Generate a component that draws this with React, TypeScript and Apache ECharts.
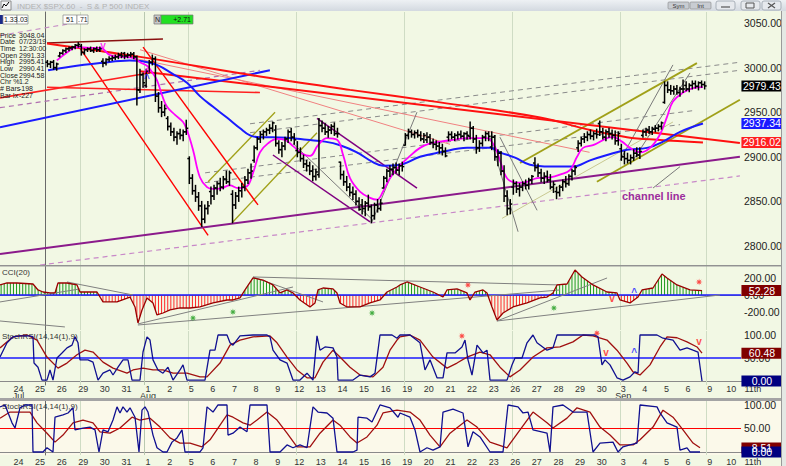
import React, { useEffect, useRef } from "react";
import * as echarts from "echarts";

// ---------- axis / tick data ----------
const dayLabels = ["24","25","26","29","30","31","1","2","5","6","7","8","9","12","13","14","15","16","19","20","21","22","23","26","27","28","29","30","3","4","5","6","9","10","11th"];
const monthLabels: Record<number, string> = { 0: "Jul", 6: "Aug", 28: "Sep" };
const weekLineDays = [3, 8, 13, 18, 23, 28, 32];
const monthLineDays = [6];
const priceTicks = [2800, 2850, 2900, 2950, 3000, 3050];
const cciTicks = [-200, 0, 200];
const stochTicks = [50, 100];
const rsiTicks = [50, 100];

// ---------- hourly OHLC bars (o,h,l,c), 7 per day ----------
const weekStartDays = [1, 3, 8, 13, 18, 23, 28];
const barsWeek0 = [
  [[3006,3008,3001,3004],[3004,3007,3000,3006],[3006,3008,2998,3000],[3000,3005,2997,3004]],
  [[3013,3017,3012,3016],[3016,3020,3015,3019],[3019,3022,3017,3021],[3021,3023,3019,3022],[3022,3024,3020,3023],[3023,3026,3021,3025],[3025,3028,3023,3026]],
];
const barsWeek1 = [
  [[3024,3026,3014,3017],[3017,3021,3015,3020],[3020,3022,3018,3021],[3021,3023,3018,3019],[3019,3022,3017,3021],[3021,3023,3018,3020],[3020,3023,3018,3021]],
  [[3007,3010,3001,3005],[3005,3010,3003,3009],[3009,3012,3007,3010],[3010,3013,3008,3011],[3011,3014,3009,3012],[3012,3016,3010,3014],[3014,3017,3011,3013]],
  [[3016,3017,3010,3013],[3013,3016,3011,3014],[3014,3017,3012,3015],[3015,3017,3010,3012],[3012,3013,2958,2975],[2975,2998,2972,2992],[2992,2994,2978,2983]],
  [[2980,2998,2978,2996],[2996,3008,2994,3006],[3006,3014,3003,3010],[3010,3012,2962,2968],[2968,2972,2950,2955],[2955,2962,2945,2950],[2950,2958,2946,2954]],
  [[2943,2945,2930,2934],[2934,2938,2924,2928],[2928,2932,2918,2922],[2922,2928,2914,2926],[2926,2931,2920,2924],[2924,2930,2918,2928],[2928,2941,2925,2932]],
];
const barsWeek2 = [
  [[2898,2900,2870,2876],[2876,2880,2858,2862],[2862,2868,2850,2855],[2855,2860,2840,2845],[2845,2850,2822,2830],[2830,2846,2826,2842],[2842,2850,2836,2845]],
  [[2861,2866,2847,2856],[2856,2868,2852,2865],[2865,2872,2858,2870],[2870,2876,2862,2866],[2866,2878,2864,2875],[2875,2884,2870,2872],[2872,2884,2868,2882]],
  [[2858,2862,2826,2846],[2846,2860,2842,2856],[2856,2866,2850,2862],[2862,2870,2855,2866],[2866,2878,2862,2874],[2874,2886,2870,2882],[2882,2892,2876,2884]],
  [[2896,2912,2894,2910],[2910,2922,2908,2920],[2920,2928,2916,2925],[2925,2930,2920,2928],[2928,2932,2924,2930],[2930,2936,2926,2932],[2932,2939,2928,2938]],
  [[2930,2935,2912,2915],[2915,2918,2904,2908],[2908,2916,2900,2912],[2912,2922,2908,2920],[2920,2930,2916,2928],[2928,2932,2918,2922],[2922,2926,2914,2919]],
];
const barsWeek3 = [
  [[2907,2917,2900,2905],[2905,2910,2895,2898],[2898,2902,2888,2892],[2892,2896,2884,2890],[2890,2894,2880,2884],[2884,2890,2873,2878],[2878,2886,2874,2883]],
  [[2880,2943,2877,2935],[2935,2940,2928,2932],[2932,2937,2925,2928],[2928,2934,2922,2930],[2930,2936,2926,2934],[2934,2938,2924,2926],[2926,2932,2922,2926]],
  [[2894,2894,2875,2880],[2880,2884,2868,2872],[2872,2878,2862,2866],[2866,2870,2856,2860],[2860,2866,2852,2858],[2858,2862,2846,2850],[2850,2854,2840,2841]],
  [[2846,2852,2836,2842],[2842,2850,2834,2848],[2848,2857,2840,2844],[2844,2846,2826,2834],[2834,2848,2830,2846],[2846,2852,2838,2842],[2842,2852,2840,2848]],
  [[2865,2878,2865,2876],[2876,2886,2872,2884],[2884,2890,2878,2886],[2886,2892,2880,2888],[2888,2893,2882,2885],[2885,2892,2880,2890],[2890,2894,2884,2889]],
];
const barsWeek4 = [
  [[2913,2926,2913,2924],[2924,2931,2920,2928],[2928,2930,2922,2925],[2925,2929,2921,2927],[2927,2930,2922,2924],[2924,2928,2918,2920],[2920,2926,2916,2924]],
  [[2919,2927,2916,2922],[2922,2925,2914,2916],[2916,2920,2910,2914],[2914,2918,2908,2912],[2912,2916,2904,2910],[2910,2914,2902,2906],[2906,2910,2900,2901]],
  [[2922,2928,2918,2925],[2925,2928,2920,2922],[2922,2926,2918,2924],[2924,2928,2920,2925],[2925,2929,2921,2923],[2923,2927,2918,2926],[2926,2928,2920,2924]],
  [[2923,2939,2920,2932],[2932,2934,2916,2920],[2920,2924,2904,2910],[2910,2918,2906,2915],[2915,2924,2912,2922],[2922,2928,2918,2926],[2926,2928,2918,2923]],
  [[2911,2928,2908,2922],[2922,2924,2896,2900],[2900,2908,2890,2904],[2904,2906,2880,2884],[2884,2890,2850,2856],[2856,2862,2835,2842],[2842,2852,2836,2847]],
];
const barsWeek5 = [
  [[2866,2874,2858,2870],[2870,2872,2860,2864],[2864,2870,2856,2866],[2866,2872,2862,2870],[2870,2874,2864,2868],[2868,2876,2864,2874],[2874,2879,2870,2878]],
  [[2893,2899,2884,2888],[2888,2892,2878,2882],[2882,2886,2872,2876],[2876,2882,2870,2878],[2878,2884,2872,2874],[2874,2880,2864,2866],[2866,2872,2860,2869]],
  [[2861,2866,2853,2860],[2860,2868,2856,2866],[2866,2874,2862,2872],[2872,2878,2866,2870],[2870,2880,2868,2878],[2878,2886,2874,2884],[2884,2890,2880,2888]],
  [[2910,2918,2906,2915],[2915,2922,2912,2920],[2920,2926,2916,2922],[2922,2928,2918,2925],[2925,2930,2920,2923],[2923,2928,2919,2926],[2926,2931,2921,2925]],
  [[2937,2940,2924,2928],[2928,2932,2920,2922],[2922,2930,2918,2928],[2928,2932,2922,2926],[2926,2930,2920,2924],[2924,2929,2914,2918],[2918,2928,2913,2926]],
];
const barsWeek6 = [
  [[2909,2914,2896,2900],[2900,2906,2892,2898],[2898,2904,2893,2896],[2896,2902,2892,2899],[2899,2908,2896,2904],[2904,2910,2900,2902],[2902,2910,2898,2906]],
  [[2924,2930,2922,2928],[2928,2932,2924,2930],[2930,2934,2926,2928],[2928,2933,2925,2931],[2931,2935,2928,2932],[2932,2936,2929,2934],[2934,2939,2931,2938]],
  [[2961,2984,2960,2980],[2980,2984,2972,2975],[2975,2980,2970,2974],[2974,2979,2970,2976],[2976,2980,2970,2972],[2972,2978,2968,2976],[2976,2986,2972,2976]],
  [[2980,2984,2974,2976],[2976,2982,2973,2980],[2980,2985,2976,2982],[2982,2985,2977,2979],[2979,2984,2975,2983],[2983,2985,2978,2981],[2981,2984,2976,2979.43]],
];
const allWeeks = [barsWeek0, barsWeek1, barsWeek2, barsWeek3, barsWeek4, barsWeek5, barsWeek6];

// ---------- moving averages (day index, price) ----------
const magentaMA = [[1.94,3008],[2.41,3017],[2.87,3023],[3.47,3022],[3.94,3022],[4.4,3014],[4.95,3012],[5.46,3011],[5.79,3006],[6.11,3002],[6.34,2995],[6.57,2986],[6.81,2969],[7.04,2956],[7.41,2947],[7.78,2939],[7.96,2930],[8.24,2908],[8.56,2877],[8.89,2866],[9.17,2864],[9.58,2865],[9.95,2868],[10.32,2865],[10.74,2867],[11.02,2882],[11.34,2905],[11.71,2915],[12.13,2920],[12.5,2919],[12.87,2912],[13.33,2903],[13.66,2901],[14.03,2913],[14.44,2921],[14.91,2919],[15.19,2902],[15.51,2876],[15.97,2861],[16.44,2854],[16.76,2852],[17.04,2861],[17.36,2876],[17.82,2890],[18.29,2901],[18.75,2910],[19.21,2915],[19.68,2917],[20.28,2919],[20.93,2921],[21.53,2921],[21.85,2921],[22.22,2911],[22.45,2896],[22.78,2876],[23.24,2871],[23.7,2872],[24.17,2876],[24.77,2877],[25.23,2880],[25.69,2885],[26.02,2900],[26.3,2910],[26.76,2913],[27.41,2921],[27.69,2922],[28.1,2917],[28.47,2910],[28.94,2905],[29.4,2910],[29.86,2925],[30.19,2945],[30.46,2962],[30.93,2972],[31.39,2977],[31.85,2978]];
const blueMA = [[1.53,2997],[2.55,3001],[3.94,3005],[5.3,3008],[5.93,3007],[6.57,3003],[7.3,2993],[7.96,2983],[8.56,2968],[9.17,2956],[9.81,2944],[10.42,2932],[10.88,2924],[11.34,2922],[11.94,2922],[12.73,2921],[13.52,2919],[14.35,2917],[15.05,2913],[15.83,2905],[16.57,2894],[17.04,2890],[17.82,2891],[18.75,2900],[19.68,2905],[20.93,2910],[21.99,2910],[22.45,2905],[23.15,2899],[23.84,2891],[24.77,2889],[25.83,2889],[26.62,2896],[27.41,2902],[28.33,2908],[29.26,2910],[30,2917],[30.79,2928],[31.85,2937.34]];
const redMA = [[1.48,3027],[5.79,3012],[11.34,2990],[15.51,2975],[19.68,2961],[24.31,2944],[26.62,2930],[28.33,2922],[29.72,2919],[31.85,2916.02]];

// ---------- trend lines (day index, price) ----------
const channelLine = [[-0.694,2791],[33.56,2900]];
const channelDashed = [[1.16,2778.7],[33.56,2878.5]];
const blueTrend = [[-0.694,2933],[11.8,2997]];
const purpleDashedUpper = [[-0.694,2955],[11.34,2997]];
const pinkDashedTop = [[-0.694,3036],[3.0,3051]];
const maroonTop = [[1.48,3027.6],[6.85,3032]];
const redSteep = [[[2.92,3025],[8.94,2812]], [[5.93,3023],[11.25,2846]]];
const redLong = [[5.79,2996],[33.56,2915.5]];
const redFlat = [[[1.48,2978],[11.34,2972]], [[-0.694,2966],[6.2,2994]]];
const salmonLines = [[[4.0,3018],[26.6,2905]], [[5.79,3020],[20.14,2914]]];
const oliveLines = [[[8.94,2872],[12.04,2950]], [[10.05,2826],[13.98,2927]], [[23.38,2893],[31.57,3005]], [[26.94,2872],[33.56,2964]]];
const khakiLine = [[22.55,2831],[30.46,2939]];
const violetLines = [[[13.98,2943],[18.61,2865]], [[11.94,2902],[16.44,2827]]];
const greyLines = [[[16.53,2827],[18.61,2950]], [[12.87,2915],[16.57,2829]], [[21.99,2922],[23.29,2816]], [[22.45,2922],[24.17,2840]], [[28.01,2896],[30.46,3003]], [[28.61,2896],[31.25,2994]], [[29.54,2865],[30.79,2889]]];
const greyDashed = [[[10.88,2937],[33.56,3006]], [[10.88,2927],[33.56,2997]], [[8.8,2882],[31.48,2952]], [[8.8,2871],[30.79,2936]]];

// ---------- CCI(20) ----------
const cci = [[-0.694,118],[-0.37,141],[0.093,141],[0.833,129],[1.065,59],[1.296,35],[1.62,24],[1.852,24],[1.991,141],[2.407,141],[2.87,118],[3.009,35],[3.796,35],[3.935,-24],[4.074,-82],[4.722,-82],[5.324,-24],[5.556,-141],[5.694,-329],[5.88,-176],[6.111,-35],[6.389,-94],[6.574,-235],[6.852,-212],[7.176,-176],[7.639,-153],[8.102,-153],[8.565,-141],[9.167,-94],[9.815,-59],[10.093,-59],[10.417,-35],[10.648,59],[11.019,200],[11.481,176],[11.944,118],[12.269,24],[12.593,59],[12.87,24],[13.194,-59],[13.657,-141],[13.889,-94],[14.028,59],[14.259,82],[14.722,71],[14.907,24],[15.046,-94],[15.37,-141],[15.972,-141],[16.435,-94],[16.898,-59],[17.222,35],[17.685,94],[17.824,118],[18.148,153],[18.75,94],[19.352,35],[19.815,-24],[20.0,59],[20.463,71],[20.926,24],[21.065,-59],[21.296,35],[21.667,59],[21.852,24],[22.083,-141],[22.315,-294],[22.593,-212],[23.056,-141],[23.704,-94],[24.306,-35],[24.63,-24],[24.907,24],[25.093,118],[25.556,129],[25.926,294],[26.25,212],[26.759,118],[27.407,35],[27.87,24],[28.009,-59],[28.472,-94],[28.843,-24],[29.028,59],[29.537,82],[29.954,247],[30.185,200],[30.648,118],[31.25,59],[31.806,52.28]];
const cciTrends = [[[-0.694,-82],[3.0,71]], [[-0.694,-306],[2.31,-376]], [[2.41,153],[5.46,0]], [[5.69,-341],[12.87,94]], [[5.69,-353],[25.23,59]], [[11.02,212],[25.23,118]], [[11.02,212],[14.26,-82]], [[22.31,-306],[27.41,200]], [[22.31,-306],[32.64,0]]];
const cciGreenStars = [[8.24,-270],[10.09,-200],[16.53,-212],[24.95,-153]];
const cciRedStars = [[20.97,118],[31.67,153]];
const cciRedV = [[27.64,-47]];
const cciBlueUp = [[28.66,35]];

// ---------- Stoch (upper) ----------
const stochFast = [[-0.694,52],[-0.37,83],[-0.093,96],[0.231,98],[0.694,98],[0.833,96],[0.88,39],[1.065,30],[1.25,2],[1.481,2],[1.62,24],[1.759,2],[1.944,50],[2.176,61],[2.407,72],[2.639,78],[2.778,96],[2.917,83],[3.009,46],[3.38,46],[3.611,41],[3.843,2],[4.074,17],[4.398,24],[4.537,13],[4.769,30],[5.0,46],[5.231,46],[5.417,2],[5.787,2],[5.926,63],[6.111,96],[6.25,89],[6.389,46],[6.62,24],[6.852,17],[7.083,30],[7.315,2],[7.639,24],[7.778,35],[7.963,2],[8.796,2],[9.028,67],[9.259,67],[9.398,100],[9.815,100],[9.954,83],[10.093,78],[10.417,98],[11.019,100],[11.667,100],[11.806,96],[11.944,67],[12.269,46],[12.593,39],[12.87,2],[13.194,2],[13.519,17],[13.796,2],[13.981,98],[14.12,67],[14.352,74],[14.722,72],[14.907,52],[14.954,2],[15.648,2],[15.972,13],[16.435,9],[16.667,17],[16.898,100],[17.454,100],[17.685,93],[17.824,100],[18.287,100],[18.75,83],[18.981,24],[19.213,46],[19.537,7],[19.815,7],[20.0,61],[20.37,61],[20.694,74],[20.833,89],[20.972,46],[21.157,13],[21.389,78],[21.667,61],[21.852,67],[21.991,2],[22.778,2],[23.009,35],[23.148,50],[23.472,50],[23.704,83],[23.981,100],[24.167,83],[24.63,67],[24.907,72],[25.093,100],[25.833,100],[26.852,100],[26.991,96],[27.176,35],[27.315,46],[27.546,35],[27.87,7],[28.148,2],[28.472,9],[28.704,20],[28.843,17],[28.935,100],[29.259,100],[29.722,100],[30.0,93],[30.463,89],[30.787,67],[31.111,72],[31.389,67],[31.62,63],[31.806,0]];
const stochSlow = [[-0.694,72],[-0.093,96],[0.556,100],[1.019,89],[1.481,52],[1.991,28],[2.407,39],[2.87,57],[3.241,67],[3.611,63],[4.074,41],[4.537,28],[5.185,17],[5.463,24],[5.926,28],[6.389,24],[6.852,24],[7.315,17],[7.963,17],[8.565,9],[8.889,9],[9.491,39],[9.954,78],[10.417,89],[11.019,96],[11.806,98],[12.13,83],[12.593,52],[13.056,24],[13.519,7],[13.889,7],[14.259,41],[14.722,67],[15.046,52],[15.509,30],[15.972,13],[16.574,9],[17.037,30],[17.361,67],[17.685,89],[17.824,96],[18.287,100],[18.75,89],[19.352,52],[20.0,28],[20.463,39],[20.926,52],[21.528,63],[21.991,57],[22.454,30],[22.917,9],[23.38,24],[23.981,52],[24.63,72],[25.231,74],[25.833,85],[26.296,100],[26.759,98],[27.407,89],[27.87,67],[28.333,39],[28.611,20],[28.935,13],[29.398,35],[29.861,74],[30.185,96],[30.648,94],[31.111,85],[31.574,74],[31.806,60.48]];
const stochRedStars = [[20.69,98],[26.94,104]];
const stochRedV = [[27.36,61],[31.67,85]];
const stochBlueUp = [[28.66,61]];

// ---------- StochRSI (bottom) ----------
const rsiFast = [[-0.694,96],[-0.463,100],[-0.139,62],[0,51],[0.231,94],[0.463,100],[0.787,100],[0.833,0],[1.296,0],[1.481,9],[1.759,0],[1.852,74],[2.222,79],[2.454,83],[2.685,94],[2.778,47],[3.148,51],[3.472,53],[3.704,47],[3.889,0],[4.074,47],[4.306,43],[4.537,68],[4.722,96],[4.861,83],[5.0,96],[5.185,85],[5.324,94],[5.556,74],[5.741,0],[5.88,89],[6.019,96],[6.157,85],[6.389,36],[6.574,9],[6.852,0],[7.037,0],[7.269,21],[7.5,30],[7.731,47],[7.87,0],[8.565,0],[8.704,9],[8.889,96],[9.167,85],[9.398,100],[9.815,100],[9.861,36],[10.093,40],[10.417,53],[10.741,43],[10.88,100],[11.667,100],[11.806,0],[12.269,0],[12.593,15],[12.87,9],[13.194,15],[13.519,9],[13.796,96],[14.028,85],[14.444,83],[14.722,72],[14.907,0],[15.648,0],[15.833,4],[15.88,74],[16.296,72],[16.528,64],[16.898,100],[17.361,94],[17.731,74],[17.824,83],[18.287,74],[18.519,47],[18.75,0],[19.074,9],[19.352,4],[19.676,11],[19.815,85],[20.278,91],[20.741,83],[20.972,11],[21.204,43],[21.528,32],[21.991,0],[22.593,0],[22.824,100],[23.287,96],[23.519,83],[23.75,85],[23.981,47],[24.63,40],[24.769,0],[24.907,96],[25.37,100],[25.833,85],[26.481,85],[26.759,0],[27.083,19],[27.685,21],[27.917,0],[28.148,11],[28.472,15],[28.796,19],[28.935,100],[29.722,96],[29.861,83],[30.185,62],[30.648,53],[30.787,4],[31.111,9],[31.25,0],[31.713,0]];
const rsiSlow = [[-0.694,72],[-0.231,85],[0.231,85],[0.694,85],[1.019,62],[1.481,40],[1.852,21],[2.222,36],[2.685,62],[3.148,68],[3.611,62],[3.935,43],[4.398,40],[4.861,51],[5.417,74],[5.787,68],[6.25,72],[6.713,53],[7.176,30],[7.639,19],[8.102,19],[8.657,11],[9.028,26],[9.398,51],[9.815,79],[10.093,74],[10.556,62],[10.88,57],[11.204,68],[11.667,85],[12.13,68],[12.593,40],[13.056,11],[13.657,11],[14.12,40],[14.722,68],[15.046,57],[15.509,32],[15.833,19],[16.296,32],[16.759,57],[17.037,83],[17.685,89],[18.287,85],[18.75,68],[19.213,36],[19.676,11],[20.139,40],[20.926,68],[21.389,53],[21.991,21],[22.778,9],[23.38,47],[23.981,85],[24.63,62],[24.907,51],[25.556,72],[26.019,94],[26.62,85],[27.083,53],[27.546,36],[28.009,15],[28.611,15],[28.935,26],[29.537,53],[30.0,89],[30.463,74],[30.926,47],[31.389,19],[31.713,9]];

// ---------- last values ----------
const lastPrice = 2979.43;
const lastBlueMA = 2937.34;
const lastRedMA = 2916.02;
const lastCCI = 52.28;
const lastStochSlow = 60.48;
const lastStochFast = 0.0;
const lastRsiSlow = 8.51;
const lastRsiFast = 0.0;

const infoRows = [["Price","3048.04"],["Date","07/23/19"],["Time","12:30:00"],["Open","2991.33"],["High","2995.41"],["Low","2990.41"],["Close","2994.58"],["Chr %","1.2"],["# Bars","-198"],["Bar Ix","-227"]];

// ---------- layout constants ----------
const X_MIN = -0.6944;
const X_MAX = 35.694;
const X_AXIS_RIGHT = 33.61;
const BOX_X = 34.58;
const FONT = "'Liberation Sans', Arial, sans-serif";
const STAR = "path://M0,-5L0.77,-1.85L3.54,-3.54L1.85,-0.77L5,0L1.85,0.77L3.54,3.54L0.77,1.85L0,5L-0.77,1.85L-3.54,3.54L-1.85,0.77L-5,0L-1.85,-0.77L-3.54,-3.54L-0.77,-1.85Z";

function buildBars() {
  const out: number[][] = [];
  allWeeks.forEach((wk, wi) => {
    wk.forEach((day, di) => {
      const d = weekStartDays[wi] + di;
      const start = 7 - day.length;
      day.forEach((b, j) => out.push([d + (start + j + 0.5) / 7, b[0], b[1], b[2], b[3]]));
    });
  });
  return out;
}

function buildOption() {
  const series: any[] = [];
  const ln = (data: any, color: string, width: number, gi: number, dash?: boolean, extra?: any) => {
    series.push({
      type: "line", xAxisIndex: gi, yAxisIndex: gi, data, showSymbol: false, symbol: "none", silent: true,
      lineStyle: { color, width, type: dash ? [5, 4] : "solid" }, z: 3, ...(extra || {}),
    });
  };

  const box = (v: number, text: string, bg: string) => ({
    coord: [BOX_X, v], value: text, symbol: "rect", symbolSize: [41, 11],
    itemStyle: { color: bg },
    label: { show: true, position: "inside", formatter: text, color: "#fff", fontSize: 10.5, fontFamily: FONT },
  });

  const vLines = [
    ...weekLineDays.map((d) => ({ xAxis: d, lineStyle: { color: "#cfdcc4", width: 1, type: "solid" } })),
    ...monthLineDays.map((d) => ({ xAxis: d, lineStyle: { color: "#b9c8b0", width: 1, type: "solid" } })),
  ];
  const helper = (gi: number, yMid: number, boxes: any[]) => {
    series.push({
      type: "line", xAxisIndex: gi, yAxisIndex: gi, data: [[X_MIN, yMid]], symbol: "none", silent: true,
      lineStyle: { opacity: 0 }, z: 1,
      markLine: { silent: true, symbol: "none", label: { show: false }, data: vLines, z: 1 },
      markPoint: { silent: true, data: boxes, z: 20 },
    });
  };
  helper(0, 2900, [box(lastPrice, "2979.43", "#000000"), box(lastBlueMA, "2937.34", "#1a1aff"), box(lastRedMA, "2916.02", "#ff2020")]);
  helper(1, 0, [box(lastCCI, "52.28", "#800000")]);
  helper(2, 50, [box(lastStochSlow, "60.48", "#800000"), box(lastStochFast, "0.00", "#000080")]);
  helper(3, 50, [box(lastRsiSlow, "8.51", "#800000"), box(lastRsiFast, "0.00", "#000080")]);

  // ---- main panel trend lines ----
  greyDashed.forEach((d) => ln(d, "#8a8a8a", 1, 0, true));
  ln(channelDashed, "#c888c8", 1.2, 0, true);
  ln(purpleDashedUpper, "#b070b0", 1.2, 0, true);
  ln(pinkDashedTop, "#c890c8", 1.2, 0, true);
  salmonLines.forEach((d) => ln(d, "#f08080", 1, 0));
  ln(khakiLine, "#c8c890", 1, 0);
  greyLines.forEach((d) => ln(d, "#7a7a7a", 1, 0));
  oliveLines.forEach((d, i) => ln(d, "#a0a018", i >= 2 ? 1.8 : 1.3, 0));
  violetLines.forEach((d) => ln(d, "#800080", 1.5, 0));
  ln(maroonTop, "#8a1010", 1.6, 0);
  redSteep.forEach((d) => ln(d, "#ff0000", 1.4, 0));
  redFlat.forEach((d) => ln(d, "#ff2020", 1.6, 0));
  ln(redLong, "#ff1010", 2, 0);
  ln(blueTrend, "#1a1aff", 2, 0);
  ln(channelLine, "#8b1a8b", 2, 0);
  ln(redMA, "#ff1010", 2, 0, false, { smooth: 0.4 });
  ln(blueMA, "#1a1aff", 2, 0, false, { smooth: 0.4 });
  ln(magentaMA, "#ff00ff", 1.8, 0, false, { smooth: 0.4 });

  // ---- OHLC bars ----
  series.push({
    type: "custom", xAxisIndex: 0, yAxisIndex: 0, data: buildBars(), silent: true, clip: true, z: 6,
    dimensions: ["x", "o", "h", "l", "c"], encode: { x: 0, y: [1, 2, 3, 4] },
    renderItem: (_p: any, api: any) => {
      const x = api.value(0);
      const o = api.coord([x, api.value(1)]);
      const h = api.coord([x, api.value(2)]);
      const l = api.coord([x, api.value(3)]);
      const c = api.coord([x, api.value(4)]);
      const st = { stroke: "#000", lineWidth: 1.5 };
      return {
        type: "group", children: [
          { type: "line", shape: { x1: h[0], y1: h[1] - 0.5, x2: l[0], y2: l[1] + 0.5 }, style: st },
          { type: "line", shape: { x1: o[0] - 2, y1: o[1], x2: o[0], y2: o[1] }, style: st },
          { type: "line", shape: { x1: c[0], y1: c[1], x2: c[0] + 2, y2: c[1] }, style: st },
        ],
      };
    },
  });

  const textMarks = (data: number[][], gi: number, txt: string, color: string, size: number) => {
    series.push({
      type: "scatter", xAxisIndex: gi, yAxisIndex: gi, data, symbolSize: 0, silent: true, z: 8,
      label: { show: true, position: "inside", formatter: txt, color, fontSize: size, fontWeight: "bold", fontFamily: FONT },
    });
  };
  const stars = (data: number[][], gi: number, color: string) => {
    series.push({ type: "scatter", xAxisIndex: gi, yAxisIndex: gi, data, symbol: STAR, symbolSize: 7, silent: true, z: 8, itemStyle: { color } });
  };
  textMarks([[4.07, 3025]], 0, "v", "#ff00ff", 10);
  textMarks([[6.11, 2995]], 0, "^", "#ff00ff", 10);
  textMarks([[6.11, 2988]], 0, "^", "#1a1aff", 10);

  // ---- CCI panel ----
  const cciSeg = cci.slice(0, -1).map((p, i) => [p[0], p[1], cci[i + 1][0], cci[i + 1][1]]);
  series.push({
    type: "custom", xAxisIndex: 1, yAxisIndex: 1, data: cciSeg, silent: true, clip: true, z: 2,
    encode: { x: [0, 2], y: [1, 3] },
    renderItem: (_p: any, api: any) => {
      const p1 = api.coord([api.value(0), api.value(1)]);
      const p2 = api.coord([api.value(2), api.value(3)]);
      const zy = api.coord([api.value(0), 0])[1];
      const origin = api.coord([0, 0])[0];
      const step = api.size([1 / 7, 0])[0];
      const children: any[] = [];
      let n = Math.floor((p1[0] - origin) / step - 0.5);
      for (let guard = 0; guard < 200; guard++) {
        const x = origin + (n + 0.5) * step;
        n++;
        if (x < p1[0]) continue;
        if (x >= p2[0]) break;
        const t = (x - p1[0]) / (p2[0] - p1[0]);
        const y = p1[1] + t * (p2[1] - p1[1]);
        children.push({ type: "line", shape: { x1: x, y1: zy, x2: x, y2: y }, style: { stroke: y < zy ? "#1c9a1c" : "#ff2a2a", lineWidth: 1 } });
      }
      return { type: "group", children };
    },
  });
  ln([[X_MIN, 0], [X_AXIS_RIGHT, 0]], "#1a1aff", 1.5, 1);
  cciTrends.forEach((d) => ln(d, "#808080", 1, 1));
  ln(cci, "#9a0000", 1.3, 1);
  stars(cciGreenStars, 1, "#1a9a1a");
  stars(cciRedStars, 1, "#ff2020");
  textMarks(cciRedV, 1, "v", "#ff2020", 10);
  textMarks(cciBlueUp, 1, "^", "#1a1aff", 10);

  // ---- Stoch panel ----
  ln([[X_MIN, 50], [X_AXIS_RIGHT, 50]], "#1a1aff", 1.5, 2);
  ln(stochSlow, "#a01010", 1.3, 2);
  ln(stochFast, "#101090", 1.3, 2);
  stars(stochRedStars, 2, "#ff2020");
  textMarks(stochRedV, 2, "v", "#ff2020", 10);
  textMarks(stochBlueUp, 2, "^", "#1a1aff", 10);

  // ---- StochRSI panel ----
  ln([[X_MIN, 50], [X_AXIS_RIGHT, 50]], "#ff0000", 1.2, 3);
  ln(rsiSlow, "#a01010", 1.3, 3);
  ln(rsiFast, "#101090", 1.3, 3);

  const grids = [
    { top: 12, height: 253, bg: "#f2f8e4" },
    { top: 266, height: 64, bg: "#f2f8e4" },
    { top: 331, height: 54, bg: "#f2f8e4" },
    { top: 401, height: 54, bg: "#fbf9ea" },
  ];
  const yr = [[2778.7, 3062.3], [-412, 341], [-8.7, 108.7], [-6.4, 108.5]];
  const yt = [priceTicks, cciTicks, stochTicks, rsiTicks];

  const dayWithMonth = (v: number) => {
    const i = Math.round(v - 0.16);
    return dayLabels[i] + (monthLabels[i] ? "\n" + monthLabels[i] : "");
  };
  const dayOnly = (v: number) => dayLabels[Math.round(v - 0.16)];
  const dayValues = dayLabels.map((_, i) => i + 0.16);

  const graphic: any[] = [
    { type: "rect", shape: { x: 0, y: 398, width: 786, height: 3 }, style: { fill: "#a4a4a4" }, z: 50 },
    { type: "line", shape: { x1: 0, y1: 266, x2: 786, y2: 266 }, style: { stroke: "#9a9a9a", lineWidth: 1 }, z: 50 },
    { type: "line", shape: { x1: 781.5, y1: 11, x2: 781.5, y2: 466 }, style: { stroke: "#9a9a9a", lineWidth: 1 }, z: 50 },
    { type: "rect", shape: { x: 782, y: 11, width: 4, height: 455 }, style: { fill: "#e4e8e4" }, z: 50 },
    { type: "rect", shape: { x: 0, y: 0, width: 786, height: 11 }, style: { fill: new echarts.graphic.LinearGradient(0, 0, 0, 1, [{ offset: 0, color: "#eef1f4" }, { offset: 1, color: "#d3d9e0" }]) }, z: 60 },
    { type: "rect", shape: { x: 1, y: 1, width: 10, height: 9 }, style: { fill: "#f4f4f4", stroke: "#777", lineWidth: 0.8 }, z: 61 },
    { type: "polyline", shape: { points: [[2, 8], [4, 4], [6, 6], [9, 2]] }, style: { stroke: "#000", lineWidth: 1, fill: null }, z: 62 },
    { type: "text", x: 17, y: 6, style: { text: "INDEX $SPX.60  -  S & P 500 INDEX", fill: "#b2b2b2", font: `8px ${FONT}`, verticalAlign: "middle" }, z: 61 },
    { type: "rect", shape: { x: 668, y: 2, width: 21, height: 7, r: 1 }, style: { fill: "#c8ccd2", stroke: "#888", lineWidth: 0.6 }, z: 61 },
    { type: "text", x: 678.5, y: 5.5, style: { text: "Sym", fill: "#333", font: `6px ${FONT}`, align: "center", verticalAlign: "middle" }, z: 62 },
    { type: "rect", shape: { x: 690, y: 2, width: 21, height: 7, r: 1 }, style: { fill: "#c8ccd2", stroke: "#888", lineWidth: 0.6 }, z: 61 },
    { type: "text", x: 700.5, y: 5.5, style: { text: "Int", fill: "#333", font: `6px ${FONT}`, align: "center", verticalAlign: "middle" }, z: 62 },
    ...[716, 741, 762].map((x) => ({ type: "rect", shape: { x, y: 1, width: 19, height: 9, r: 2 }, style: { fill: "#e6e9ed", stroke: "#9aa2ac", lineWidth: 0.8 }, z: 61 })),
    { type: "line", shape: { x1: 721, y1: 7, x2: 730, y2: 7 }, style: { stroke: "#555", lineWidth: 1.2 }, z: 62 },
    { type: "rect", shape: { x: 746, y: 3, width: 8, height: 5 }, style: { fill: null, stroke: "#555", lineWidth: 1 }, z: 62 },
    { type: "line", shape: { x1: 768, y1: 3, x2: 775, y2: 8 }, style: { stroke: "#555", lineWidth: 1.2 }, z: 62 },
    { type: "line", shape: { x1: 775, y1: 3, x2: 768, y2: 8 }, style: { stroke: "#555", lineWidth: 1.2 }, z: 62 },
    { type: "rect", shape: { x: 0, y: 15, width: 3, height: 9 }, style: { fill: "#1a2a8a" }, z: 61 },
    { type: "rect", shape: { x: 3, y: 15, width: 14, height: 9 }, style: { fill: "#ffffff", stroke: "#888", lineWidth: 0.7 }, z: 61 },
    { type: "text", x: 4, y: 19.5, style: { text: "1.33", fill: "#222", font: `7px ${FONT}`, verticalAlign: "middle" }, z: 62 },
    { type: "rect", shape: { x: 17, y: 15, width: 11, height: 9 }, style: { fill: "#ffffff", stroke: "#888", lineWidth: 0.7 }, z: 61 },
    { type: "text", x: 18, y: 19.5, style: { text: ".03", fill: "#222", font: `7px ${FONT}`, verticalAlign: "middle" }, z: 62 },
    { type: "rect", shape: { x: 63, y: 15, width: 14, height: 9 }, style: { fill: "#ffffff", stroke: "#888", lineWidth: 0.7 }, z: 61 },
    { type: "text", x: 66, y: 19.5, style: { text: "51", fill: "#222", font: `7px ${FONT}`, verticalAlign: "middle" }, z: 62 },
    { type: "rect", shape: { x: 77, y: 15, width: 11, height: 9 }, style: { fill: "#ffffff", stroke: "#888", lineWidth: 0.7 }, z: 61 },
    { type: "text", x: 78, y: 19.5, style: { text: ".71", fill: "#222", font: `7px ${FONT}`, verticalAlign: "middle" }, z: 62 },
    { type: "rect", shape: { x: 154, y: 15, width: 7, height: 9 }, style: { fill: "#c8c8c8", stroke: "#777", lineWidth: 0.7 }, z: 61 },
    { type: "text", x: 157.5, y: 19.5, style: { text: "N", fill: "#222", font: `7px ${FONT}`, align: "center", verticalAlign: "middle" }, z: 62 },
    { type: "rect", shape: { x: 161, y: 15, width: 32, height: 9 }, style: { fill: "#22e022", stroke: "#777", lineWidth: 0.7 }, z: 61 },
    { type: "text", x: 191, y: 19.5, style: { text: "+2.71", fill: "#111", font: `7px ${FONT}`, align: "right", verticalAlign: "middle" }, z: 62 },
    ...infoRows.flatMap((r, i) => [
      { type: "text", x: 0, y: 35 + i * 6.7, style: { text: r[0], fill: "#222", font: `7px ${FONT}`, verticalAlign: "middle" }, z: 40 },
      { type: "text", x: 19, y: 35 + i * 6.7, style: { text: r[1], fill: "#222", font: `7px ${FONT}`, verticalAlign: "middle" }, z: 40 },
    ]),
    { type: "text", x: 2, y: 272, style: { text: "CCI(20)", fill: "#333", font: `8px ${FONT}`, verticalAlign: "middle" }, z: 40 },
    { type: "text", x: 2, y: 336, style: { text: "StochRSI(14,14(1),9)", fill: "#333", font: `8px ${FONT}`, verticalAlign: "middle" }, z: 1 },
    { type: "text", x: 2, y: 406, style: { text: "StochRSI(14,14(1),9)", fill: "#333", font: `8px ${FONT}`, verticalAlign: "middle" }, z: 1 },
    { type: "text", x: 622, y: 196, style: { text: "channel line", fill: "#9c2e9c", font: `bold 11px ${FONT}`, verticalAlign: "middle" }, z: 40 },
  ];

  return {
    animation: false,
    backgroundColor: "#f2f8e4",
    textStyle: { fontFamily: FONT },
    grid: grids.map((g) => ({
      left: 0, right: 0, top: g.top, height: g.height, show: true, backgroundColor: g.bg, borderWidth: 0,
      containLabel: false, outerBoundsMode: "none",
    })),
    xAxis: grids.map((_, i) => ({
      type: "value", gridIndex: i, min: X_MIN, max: X_MAX,
      axisLine: { show: true, lineStyle: { color: "#8a8a8a", width: 1 } },
      axisTick: { show: false }, splitLine: { show: false },
      axisLabel: i >= 2 ? {
        show: true, customValues: dayValues, formatter: i === 2 ? dayWithMonth : dayOnly, fontSize: 9, lineHeight: 7.5,
        color: "#333", margin: i === 2 ? 0 : 3, fontFamily: FONT,
      } : { show: false },
    })),
    yAxis: grids.map((_, i) => ({
      type: "value", gridIndex: i, position: "right", offset: -45, min: yr[i][0], max: yr[i][1],
      splitLine: { show: false }, axisTick: { show: false },
      axisLine: { show: true, lineStyle: { color: "#6a6a6a", width: 1 } },
      axisLabel: { show: true, customValues: yt[i], formatter: (v: number) => v.toFixed(2), fontSize: 10.5, color: "#222", margin: 3, fontFamily: FONT },
    })),
    graphic,
    series,
  };
}

export default function App() {
  const ref = useRef<HTMLDivElement>(null);
  useEffect(() => {
    if (!ref.current) return;
    const chart = echarts.init(ref.current, null, { renderer: "svg" });
    chart.setOption(buildOption() as any);
    return () => chart.dispose();
  }, []);
  return <div ref={ref} style={{ position: "absolute", left: 0, top: 0, width: 786, height: 466 }} />;
}
